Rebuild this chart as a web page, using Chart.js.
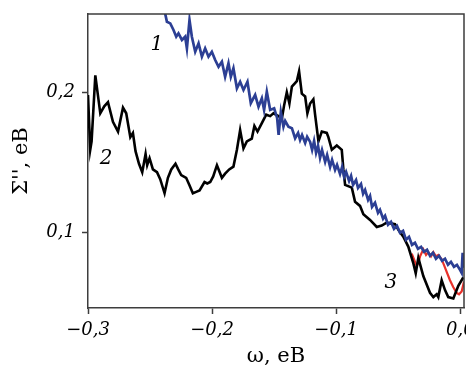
<!DOCTYPE html>
<html>
<head>
<meta charset="utf-8">
<script src="https://cdn.jsdelivr.net/npm/chart.js@4.4.1/dist/chart.umd.min.js"></script>
<style>
  html, body { margin: 0; padding: 0; background: #ffffff; }
  #wrap { width: 466px; height: 370px; position: relative; }
</style>
</head>
<body>
<div id="wrap"><canvas id="c" width="466" height="370"></canvas></div>
<script>
// ---- data (ω in eB, Σ'' in eB) ----
const omega1 = [-0.2378,-0.2364,-0.2337,-0.2311,-0.2289,-0.2271,-0.2243,-0.2217,-0.2203,-0.2182,-0.2163,-0.2136,-0.2109,-0.2082,-0.2056,-0.2029,-0.2002,-0.1975,-0.1948,-0.1921,-0.1895,-0.1868,-0.1849,-0.1828,-0.1800,-0.1774,-0.1747,-0.1715,-0.1688,-0.1653,-0.1626,-0.1599,-0.1581,-0.1559,-0.1532,-0.1500,-0.1476,-0.1464,-0.1446,-0.1425,-0.1411,-0.1385,-0.1357,-0.1331,-0.1307,-0.1291,-0.1275,-0.1250,-0.1234,-0.1210,-0.1194,-0.1178,-0.1162,-0.1146,-0.1130,-0.1114,-0.1089,-0.1073,-0.1049,-0.1033,-0.1009,-0.0993,-0.0969,-0.0952,-0.0936,-0.0920,-0.0896,-0.0880,-0.0864,-0.0840,-0.0824,-0.0800,-0.0783,-0.0767,-0.0743,-0.0727,-0.0711,-0.0687,-0.0663,-0.0647,-0.0622,-0.0606,-0.0582,-0.0558,-0.0534,-0.0510,-0.0486,-0.0461,-0.0437,-0.0413,-0.0389,-0.0365,-0.0341,-0.0316,-0.0292,-0.0268,-0.0244,-0.0220,-0.0196,-0.0171,-0.0147,-0.0123,-0.0099,-0.0075,-0.0051,-0.0027,-0.0002,0.0011,0.0019,0.0030];
const sigma1 = [0.2560,0.2503,0.2491,0.2444,0.2396,0.2420,0.2373,0.2396,0.2313,0.2515,0.2396,0.2289,0.2349,0.2254,0.2313,0.2254,0.2289,0.2230,0.2182,0.2218,0.2111,0.2207,0.2111,0.2171,0.2028,0.2075,0.2016,0.2075,0.1922,0.1981,0.1897,0.1957,0.1874,0.2004,0.1874,0.1886,0.1817,0.1696,0.1860,0.1755,0.1796,0.1755,0.1744,0.1672,0.1710,0.1660,0.1696,0.1639,0.1682,0.1646,0.1589,0.1653,0.1568,0.1618,0.1532,0.1589,0.1504,0.1553,0.1468,0.1518,0.1447,0.1482,0.1418,0.1468,0.1397,0.1432,0.1368,0.1404,0.1340,0.1375,0.1318,0.1347,0.1276,0.1304,0.1233,0.1261,0.1183,0.1212,0.1140,0.1162,0.1098,0.1119,0.1055,0.1076,0.1026,0.1048,0.0998,0.1012,0.0948,0.0969,0.0912,0.0927,0.0884,0.0898,0.0863,0.0877,0.0834,0.0855,0.0813,0.0834,0.0798,0.0813,0.0770,0.0791,0.0756,0.0770,0.0734,0.0713,0.0855,0.0749];

const omega2 = [-0.3000,-0.2982,-0.2971,-0.2957,-0.2941,-0.2901,-0.2869,-0.2839,-0.2799,-0.2758,-0.2718,-0.2692,-0.2659,-0.2638,-0.2617,-0.2589,-0.2563,-0.2536,-0.2523,-0.2504,-0.2477,-0.2444,-0.2418,-0.2383,-0.2356,-0.2329,-0.2295,-0.2273,-0.2249,-0.2209,-0.2184,-0.2155,-0.2128,-0.2101,-0.2061,-0.2039,-0.2015,-0.1991,-0.1961,-0.1921,-0.1895,-0.1862,-0.1828,-0.1800,-0.1774,-0.1747,-0.1720,-0.1680,-0.1659,-0.1634,-0.1599,-0.1564,-0.1532,-0.1506,-0.1465,-0.1438,-0.1419,-0.1398,-0.1377,-0.1357,-0.1317,-0.1299,-0.1277,-0.1250,-0.1232,-0.1210,-0.1184,-0.1170,-0.1143,-0.1116,-0.1076,-0.1063,-0.1035,-0.0995,-0.0955,-0.0942,-0.0928,-0.0874,-0.0848,-0.0808,-0.0781,-0.0727,-0.0673,-0.0633,-0.0593,-0.0526,-0.0499,-0.0459,-0.0419,-0.0378,-0.0359,-0.0338,-0.0298,-0.0244,-0.0217,-0.0190,-0.0177,-0.0150,-0.0123,-0.0097,-0.0056,-0.0016,0.0024];
const sigma2 = [0.198,0.159,0.165,0.187,0.212,0.185,0.190,0.193,0.179,0.172,0.189,0.185,0.168,0.171,0.158,0.149,0.143,0.156,0.148,0.153,0.145,0.143,0.138,0.128,0.139,0.145,0.149,0.145,0.141,0.139,0.134,0.128,0.129,0.130,0.136,0.135,0.136,0.140,0.148,0.139,0.142,0.145,0.147,0.159,0.173,0.160,0.165,0.167,0.176,0.172,0.178,0.184,0.183,0.185,0.183,0.181,0.191,0.200,0.192,0.204,0.208,0.215,0.199,0.197,0.185,0.192,0.195,0.184,0.165,0.172,0.171,0.168,0.159,0.162,0.159,0.145,0.134,0.132,0.122,0.119,0.113,0.109,0.104,0.105,0.107,0.106,0.102,0.097,0.090,0.078,0.071,0.082,0.069,0.057,0.054,0.056,0.054,0.066,0.059,0.054,0.053,0.062,0.068];

const omega3 = [-0.0391,-0.0351,-0.0336,-0.0324,-0.0298,-0.0276,-0.0258,-0.0236,-0.0217,-0.0196,-0.0177,-0.0150,-0.0123,-0.0083,-0.0056,-0.0029,-0.0010,0.0011,0.0030];
const sigma3 = [0.085,0.076,0.079,0.083,0.088,0.084,0.086,0.083,0.086,0.083,0.084,0.081,0.075,0.066,0.061,0.057,0.056,0.058,0.065];

const xTicks = [-0.3, -0.2, -0.1, 0.0];
const yTicks = [0.1, 0.2];
const xRange = [-0.3, 0.003];
const yRange = [0.0462, 0.2558];

const curveLabels = ['1', '2', '3'];
const curveLabelOmega = [-0.2445, -0.2855, -0.0559];
const curveLabelSigma = [0.2340, 0.1525, 0.0642];

const xTitle = 'ω, eB';
const yTitle = 'Σ\'\', eB';

// ---- helpers ----
function fmt(v) {
  const s = Math.abs(v).toFixed(1).replace('.', ',');
  return (v < -1e-9 ? '\u2212' : '') + s;
}
function pts(xs, ys) { return xs.map((x, i) => ({ x: x, y: ys[i] })); }

const AXIS = '#3d3d3d';
const SERIF = '"DejaVu Serif", "Liberation Serif", serif';

const framePlugin = {
  id: 'frame',
  afterDatasetsDraw(chart) {
    const { ctx, chartArea: a } = chart;
    ctx.save();
    ctx.strokeStyle = AXIS;
    ctx.lineWidth = 1.5;
    ctx.beginPath();
    ctx.moveTo(a.left, a.top);
    ctx.lineTo(a.right, a.top);
    ctx.lineTo(a.right, a.bottom);
    ctx.stroke();
    ctx.restore();
  }
};

const labelPlugin = {
  id: 'curveLabels',
  afterDatasetsDraw(chart) {
    const { ctx } = chart;
    const xs = chart.scales.x, ys = chart.scales.y;
    ctx.save();
    ctx.fillStyle = '#000';
    ctx.font = 'italic 20px ' + SERIF;
    ctx.textAlign = 'center';
    ctx.textBaseline = 'middle';
    curveLabels.forEach((t, i) => {
      ctx.fillText(t, xs.getPixelForValue(curveLabelOmega[i]), ys.getPixelForValue(curveLabelSigma[i]));
    });
    ctx.restore();
  }
};

new Chart(document.getElementById('c'), {
  type: 'line',
  data: {
    datasets: [
      { label: '1', data: pts(omega1, sigma1), borderColor: '#2c3f94', borderWidth: 2.7, pointRadius: 0, tension: 0, fill: false },
      { label: '2', data: pts(omega2, sigma2), borderColor: '#000000', borderWidth: 2.6, pointRadius: 0, tension: 0, fill: false },
      { label: '3', data: pts(omega3, sigma3), borderColor: '#e8312a', borderWidth: 2.2, pointRadius: 0, tension: 0, fill: false }
    ]
  },
  options: {
    responsive: false,
    animation: false,
    events: [],
    layout: { padding: { top: 14, right: 2, left: 0, bottom: 0 } },
    plugins: { legend: { display: false }, tooltip: { enabled: false } },
    scales: {
      x: {
        type: 'linear',
        min: xRange[0], max: xRange[1],
        afterBuildTicks(s) { s.ticks = xTicks.map(v => ({ value: v })); },
        afterFit(s) { s.height = 62; s.paddingLeft = 0; s.paddingRight = 0; },
        grid: { display: true, drawOnChartArea: false, drawTicks: true, tickLength: 6, tickWidth: 1.5, tickColor: AXIS },
        border: { display: true, color: AXIS, width: 1.5 },
        ticks: { callback: v => fmt(v), color: '#000', font: { family: SERIF, size: 18, style: 'italic' }, padding: 6, maxRotation: 0, autoSkip: false },
        title: { display: true, text: xTitle, color: '#000', font: { family: SERIF, size: 21 }, padding: { top: 0, bottom: 1 } }
      },
      y: {
        type: 'linear',
        min: yRange[0], max: yRange[1],
        afterBuildTicks(s) { s.ticks = yTicks.map(v => ({ value: v })); },
        afterFit(s) { s.width = 88; s.paddingTop = 0; s.paddingBottom = 0; },
        grid: { display: true, drawOnChartArea: false, drawTicks: true, tickLength: 6, tickWidth: 1.5, tickColor: AXIS },
        border: { display: true, color: AXIS, width: 1.5 },
        ticks: { callback: v => fmt(v), color: '#000', font: { family: SERIF, size: 18, style: 'italic' }, padding: 7, autoSkip: false },
        title: { display: true, text: yTitle, color: '#000', font: { family: SERIF, size: 21 }, padding: { top: 9, bottom: 0 } }
      }
    }
  },
  plugins: [framePlugin, labelPlugin]
});
</script>
</body>
</html>
